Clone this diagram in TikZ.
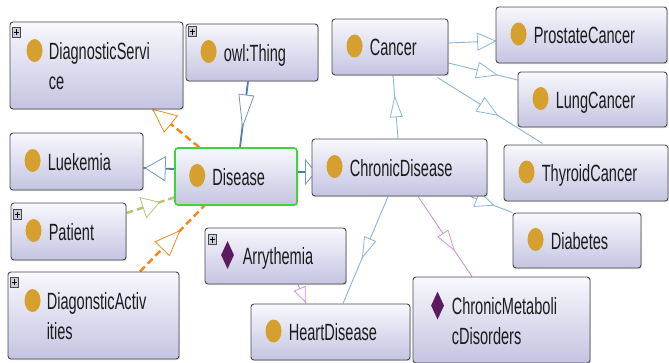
\documentclass[tikz,border=0pt]{standalone}
\usepackage{fontspec}
\newfontfamily\lblfont[FakeStretch=0.62]{Liberation Sans}
\usetikzlibrary{calc,shapes.geometric,shadows}
\pgfdeclarelayer{back}
\pgfdeclarelayer{bg}
\pgfsetlayers{back,bg,main}
\definecolor{gold}{HTML}{D5A02E}
\definecolor{plum}{HTML}{5C1B5E}
\definecolor{boxtop}{HTML}{F8F8FD}
\definecolor{boxbot}{HTML}{C4C4E2}
\definecolor{boxline}{HTML}{4A4A4A}
\definecolor{steel}{HTML}{4F80AC}
\definecolor{lblue}{HTML}{8CB6D6}
\definecolor{violetl}{HTML}{CC94DC}
\definecolor{orng}{HTML}{F08A1E}
\definecolor{olivel}{HTML}{B9C278}
\definecolor{selgreen}{HTML}{3CD63C}
\definecolor{txt}{HTML}{1C1C1C}
\definecolor{plusfill}{HTML}{C9CDD9}
\tikzset{
  cls/.style={draw=boxline, line width=0.9pt, rounded corners=3pt, top color=boxtop, bottom color=boxbot,
    drop shadow={shadow xshift=1.2pt, shadow yshift=-1.2pt, opacity=0.25}, inner sep=0pt},
  selcls/.style={cls, draw=selgreen, line width=1.6pt},
  goldicon/.style={ellipse, fill=gold, inner sep=0pt, minimum width=16pt, minimum height=23pt},
  plumicon/.style={diamond, fill=plum, inner sep=0pt, minimum width=13pt, minimum height=28pt},
  lbl/.style={font=\lblfont\fontsize{23.5}{28}\selectfont, text=txt, inner sep=0pt},
  plusb/.style={draw=boxline, fill=plusfill, line width=0.5pt, inner sep=0pt, minimum width=8pt, minimum height=10pt},
  blueT/.style={draw=steel, line width=1.8pt},
  blueS/.style={draw=lblue, line width=0.9pt},
  violetS/.style={draw=violetl, line width=0.9pt},
  orangeD/.style={draw=orng, line width=2.5pt, dash pattern=on 7pt off 4pt},
  oliveD/.style={draw=olivel, line width=2.5pt, dash pattern=on 7pt off 4pt},
  tristeel/.style={draw=steel!80, line width=0.8pt},
  triblue/.style={draw=lblue, line width=0.8pt},
  triviolet/.style={draw=violetl, line width=0.8pt},
  triorange/.style={draw=orng, line width=0.8pt},
  triolive/.style={draw=olivel, line width=0.8pt},
}
% one-line class box: name, cx, cy, w, h, icon style, text, box style
\newcommand\klass[8]{%
  \node[#8, minimum width=#4pt, minimum height=#5pt] (#1) at (#2,#3) {};
  \node[#6] (#1-i) at ($(#1.west)+(23,-1)$) {};
  \node[lbl, anchor=base west] (#1-t) at ($(#1.west)+(38,8.5)$) {#7};
}
% two-line class box: name, cx, cy, w, h, icon style, line1, line2
\newcommand\klasstwo[8]{%
  \node[cls, minimum width=#4pt, minimum height=#5pt] (#1) at (#2,#3) {};
  \node[#6] (#1-i) at ($(#1.north west)+(25,29)$) {};
  \node[lbl, anchor=base west] (#1-t) at ($(#1.north west)+(39,38)$) {#7};
  \node[lbl, anchor=base west] (#1-u) at ($(#1.north west)+(39,68)$) {#8};
}
\newcommand\plusbox[3]{%
  \node[plusb] (#1-p) at ($(#1.north west)+(#2,#3)$) {};
  \draw[line width=0.8pt, black] ($(#1-p.center)+(-2.5,0)$) -- ($(#1-p.center)+(2.5,0)$)
    ($(#1-p.center)+(0,-3)$) -- ($(#1-p.center)+(0,3)$);
}
% connector: line style, A, B, apex pos, length, half width, triangle style
\newcommand\conn[7]{%
  \coordinate (cA) at (#2);
  \coordinate (cB) at (#3);
  \draw[#1] (cA) -- (cB);
  \coordinate (cT) at ($(cA)!#4!(cB)$);
  \coordinate (cS) at ($(cT)!#5pt!(cA)$);
  \draw[#7, fill=white, line join=miter] (cT) -- ($(cS)!#6pt!90:(cT)$) -- ($(cS)!#6pt!-90:(cT)$) -- cycle;
}
\begin{document}
\begin{tikzpicture}[x=1pt, y=-1pt]
\begin{pgfonlayer}{back}
\fill[white] (0,0) rectangle (669,362);
\end{pgfonlayer}
\useasboundingbox (0,0) rectangle (669,362);

\klasstwo{dsvc}{96.5}{65.5}{173}{87}{goldicon}{DiagnosticServi}{ce}
\plusbox{dsvc}{6.5}{10.5}
\klass{thing}{252}{52.5}{132}{57}{goldicon}{owl:Thing}{cls}
\plusbox{thing}{6.5}{8}
\klass{leuk}{76.5}{161.5}{133}{57}{goldicon}{Luekemia}{cls}
\klass{disease}{236}{176.5}{122}{57}{goldicon}{Disease}{selcls}
\klass{chronic}{399.5}{167.5}{175}{57}{goldicon}{ChronicDisease}{cls}
\klass{cancer}{390}{47}{116}{56}{goldicon}{Cancer}{cls}
\klass{prost}{581.5}{35}{171}{56}{goldicon}{ProstateCancer}{cls}
\klass{lung}{592.5}{99.5}{149}{55}{goldicon}{LungCancer}{cls}
\klass{thyroid}{586}{173}{164}{56}{goldicon}{ThyroidCancer}{cls}
\klass{diab}{577}{240.5}{128}{55}{goldicon}{Diabetes}{cls}
\klass{patient}{68.5}{231.5}{115}{57}{goldicon}{Patient}{cls}
\plusbox{patient}{6.5}{12}
\klasstwo{dact}{93.5}{315.5}{171}{87}{goldicon}{DiagonsticActiv}{ities}
\plusbox{dact}{6.5}{10.5}
\klass{arry}{275.5}{256}{141}{56}{plumicon}{Arrythemia}{cls}
\plusbox{arry}{7.5}{12}
\klass{heart}{330.5}{332}{159}{56}{goldicon}{HeartDisease}{cls}
\klasstwo{cmd}{501.5}{320}{177}{86}{plumicon}{ChronicMetaboli}{cDisorders}

\begin{pgfonlayer}{bg}
\conn{blueT}{$(thing.south)+(-4,0)$}{$(disease.north)+(4,0)$}{0.69}{32}{7.5}{tristeel}
\conn{blueT}{$(disease.west)+(0,-7.5)$}{$(leuk.east)+(0,6.5)$}{0.94}{20}{12}{tristeel}
\conn{blueT}{$(disease.east)+(0,-4.5)$}{$(chronic.west)+(4,4.5)$}{1}{10}{12}{tristeel}
\conn{blueS}{$(chronic.north)+(-1.5,0)$}{$(cancer.south)+(3,0)$}{0.66}{20}{6}{triblue}
\conn{blueS}{$(cancer.east)+(0,-4)$}{$(prost.west)+(0,6)$}{1}{18}{8.5}{triblue}
\conn{blueS}{$(cancer.east)+(0,16)$}{$(lung.west)+(0,-19.5)$}{0.70}{20}{8}{triblue}
\conn{blueS}{$(cancer.south east)+(-11,2)$}{$(thyroid.north west)+(39,-1)$}{0.57}{20}{8}{triblue}
\conn{blueS}{$(chronic.south east)+(-17,0)$}{$(diab.north west)$}{0.55}{18}{8}{triblue}
\conn{blueS}{$(chronic.south)+(-11.5,0)$}{$(heart.north)+(12.5,0)$}{0.57}{20}{6}{triblue}
\conn{violetS}{$(chronic.south)+(18.5,0)$}{$(cmd.north)+(-29.5,0)$}{0.67}{20}{6}{triviolet}
\conn{violetS}{$(arry.south)+(22.5,0)$}{$(heart.north)+(-24.5,0)$}{0.9}{14}{6}{triviolet}
\conn{orangeD}{$(disease.north west)+(25,0)$}{$(dsvc.south)+(56.5,0)$}{1}{23}{10.5}{triorange}
\conn{oliveD}{$(patient.east)+(0,-18.5)$}{$(disease.west)+(0,21)$}{0.69}{17}{10.5}{triolive}
\conn{orangeD}{$(dact.north)+(46.5,0)$}{$(disease.south west)+(30,0)$}{0.62}{25}{10}{triorange}
\end{pgfonlayer}
\end{tikzpicture}
\end{document}
